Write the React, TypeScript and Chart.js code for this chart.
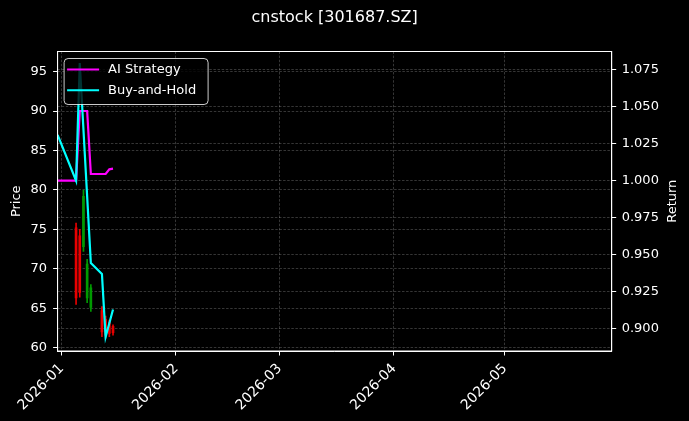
import { useEffect, useRef } from "react";
import { Chart, registerables } from "chart.js";
Chart.register(...registerables);

const chartTitle = "cnstock [301687.SZ]";

// daily candles (price axis)
const candleDates = ["2026-01-05", "2026-01-06", "2026-01-07", "2026-01-08", "2026-01-09", "2026-01-12", "2026-01-13", "2026-01-14", "2026-01-15"];
const opens = [75.2, 74.2, 72.8, 66.3, 65.1, 64.7, 63.6, 63.2, 62.7];
const highs = [75.8, 75.0, 80.0, 71.2, 68.0, 65.2, 64.0, 63.5, 62.9];
const lows = [65.5, 66.4, 72.2, 65.7, 64.6, 61.4, 61.2, 61.4, 61.6];
const closes = [66.3, 67.0, 79.2, 70.6, 67.6, 62.0, 61.6, 61.8, 61.9];

// return curves (right axis)
const strategyDates = ["2025-12-31", "2026-01-05", "2026-01-06", "2026-01-07", "2026-01-08", "2026-01-09", "2026-01-12", "2026-01-13", "2026-01-14", "2026-01-15"];
const strategyReturns = [1.0, 1.0, 1.0472, 1.0472, 1.0472, 1.0045, 1.0045, 1.0045, 1.0077, 1.0081];
const holdDates = ["2025-12-31", "2026-01-05", "2026-01-06", "2026-01-09", "2026-01-12", "2026-01-13", "2026-01-15"];
const holdReturns = [1.031, 1.0, 1.0797, 0.9442, 0.9368, 0.8941, 0.9127];

// axes
const monthTicks = ["2026-01", "2026-02", "2026-03", "2026-04", "2026-05"];
const priceTicks = [60, 65, 70, 75, 80, 85, 90, 95];
const returnTicks = [0.9, 0.925, 0.95, 0.975, 1.0, 1.025, 1.05, 1.075];
const xRange = ["2025-12-31", "2026-05-30"];
const priceRange = [59.58, 97.56];
const returnRange = [0.8846, 1.0875];

const FONT = "'DejaVu Sans', sans-serif";
const UP = "#009a00";
const DOWN = "#e80000";
const GRID = "rgba(255,255,255,0.3)";

const day = (s: string) => {
  const [y, m, d] = s.split("-").map(Number);
  return (Date.UTC(y, m - 1, d || 1) - Date.UTC(2026, 0, 1)) / 86400000;
};

const framePlugin = {
  id: "frame",
  afterDatasetsDraw(chart: any) {
    const { ctx, chartArea: a } = chart;
    // legend box, upper left inside the axes
    const lines = chart.data.datasets.filter((d: any) => d.type === "line");
    const x = a.left + 6.5, y = a.top + 7, w = 144, h = 46;
    ctx.save();
    ctx.setLineDash([]);
    ctx.fillStyle = "rgba(0,0,0,0.8)";
    ctx.strokeStyle = "rgba(255,255,255,0.8)";
    ctx.lineWidth = 1;
    ctx.beginPath();
    ctx.roundRect(x, y, w, h, 4);
    ctx.fill();
    ctx.stroke();
    ctx.font = `13px ${FONT}`;
    ctx.textBaseline = "middle";
    lines.forEach((ds: any, i: number) => {
      const ry = y + 11 + i * 20.7;
      ctx.strokeStyle = ds.borderColor;
      ctx.lineWidth = 2;
      ctx.beginPath();
      ctx.moveTo(x + 3, ry);
      ctx.lineTo(x + 35, ry);
      ctx.stroke();
      ctx.fillStyle = "#ffffff";
      ctx.fillText(ds.label, x + 44, ry);
    });
    ctx.restore();
  },
  afterDraw(chart: any) {
    const { ctx, chartArea: a } = chart;
    ctx.save();
    ctx.setLineDash([]);
    ctx.strokeStyle = "#ffffff";
    ctx.lineWidth = 1;
    ctx.strokeRect(a.left, a.top, a.right - a.left, a.bottom - a.top);
    ctx.fillStyle = "#ffffff";
    // month labels, rotated 45 degrees, ending under the tick
    ctx.font = `14px ${FONT}`;
    const xs = chart.scales.x;
    monthTicks.forEach((m) => {
      const px = xs.getPixelForValue(day(m));
      ctx.save();
      ctx.translate(px - 4.5, a.bottom + 10.5);
      ctx.rotate(-Math.PI / 4);
      ctx.textAlign = "right";
      ctx.textBaseline = "top";
      ctx.fillText(m, 0, 0);
      ctx.restore();
    });
    // right axis title, reading bottom to top
    ctx.font = `13px ${FONT}`;
    ctx.translate(672.5, (a.top + a.bottom) / 2);
    ctx.rotate(-Math.PI / 2);
    ctx.textAlign = "center";
    ctx.textBaseline = "middle";
    ctx.fillText("Return", 0, 0);
    ctx.restore();
  },
};

export default function App() {
  const canvasRef = useRef<HTMLCanvasElement>(null);
  const chartRef = useRef<Chart | null>(null);

  useEffect(() => {
    document.body.style.margin = "0";
    document.body.style.background = "#000";
    if (!canvasRef.current) return;
    chartRef.current?.destroy();

    const colors = candleDates.map((_, i) => (closes[i] >= opens[i] ? UP : DOWN));
    const axisCommon = {
      grid: { color: GRID, lineWidth: 0.7, tickColor: "#ffffff", tickLength: 4.5, tickWidth: 1 },
      border: { color: "#ffffff", width: 1, dash: [2.5, 1.6] },
    };

    chartRef.current = new Chart(canvasRef.current, {
      type: "bar",
      data: {
        datasets: [
          {
            type: "line",
            label: "AI Strategy",
            data: strategyDates.map((d, i) => ({ x: day(d), y: strategyReturns[i] })),
            borderColor: "#ff00ff",
            borderWidth: 2.2,
            pointRadius: 0,
            tension: 0,
            yAxisID: "y1",
            order: 1,
          },
          {
            type: "line",
            label: "Buy-and-Hold",
            data: holdDates.map((d, i) => ({ x: day(d), y: holdReturns[i] })),
            borderColor: "#00ffff",
            borderWidth: 2.2,
            pointRadius: 0,
            tension: 0,
            yAxisID: "y1",
            order: 0,
          },
          {
            type: "bar",
            label: "body",
            data: candleDates.map((d, i) => ({ x: day(d), y: [Math.min(opens[i], closes[i]), Math.max(opens[i], closes[i])] })),
            backgroundColor: colors,
            barThickness: 2,
            grouped: false,
            yAxisID: "y",
            order: 2,
          },
          {
            type: "bar",
            label: "wick",
            data: candleDates.map((d, i) => ({ x: day(d), y: [lows[i], highs[i]] })),
            backgroundColor: colors,
            barThickness: 1,
            grouped: false,
            yAxisID: "y",
            order: 3,
          },
        ] as any,
      },
      plugins: [framePlugin],
      options: {
        animation: false,
        responsive: true,
        maintainAspectRatio: false,
        layout: { padding: 0 },
        font: { family: FONT },
        plugins: {
          legend: { display: false },
          tooltip: { enabled: false },
          title: {
            display: true,
            text: chartTitle,
            color: "#ffffff",
            fullSize: false,
            font: { family: FONT, size: 16, weight: "normal" },
            padding: { top: 8.5, bottom: 23.8 },
          },
        },
        scales: {
          x: {
            type: "linear",
            offset: false,
            min: day(xRange[0]),
            max: day(xRange[1]),
            ...axisCommon,
            grid: { ...axisCommon.grid, offset: false },
            afterBuildTicks: (s: any) => { s.ticks = monthTicks.map((m) => ({ value: day(m) })); },
            afterFit: (s: any) => { s.height = 70; },
            ticks: { display: false },
          },
          y: {
            position: "left",
            min: priceRange[0],
            max: priceRange[1],
            ...axisCommon,
            afterBuildTicks: (s: any) => { s.ticks = priceTicks.map((v) => ({ value: v })); },
            afterFit: (s: any) => { s.width = 57.6; },
            ticks: { color: "#ffffff", font: { family: FONT, size: 13 }, padding: 6, callback: (v: any) => String(v) },
            title: { display: true, text: "Price", color: "#ffffff", font: { family: FONT, size: 13 }, padding: { top: 9, bottom: 0 } },
          },
          y1: {
            position: "right",
            min: returnRange[0],
            max: returnRange[1],
            ...axisCommon,
            afterBuildTicks: (s: any) => { s.ticks = returnTicks.map((v) => ({ value: v })); },
            afterFit: (s: any) => { s.width = 689 - 611.7; },
            ticks: { color: "#ffffff", font: { family: FONT, size: 13 }, padding: 5.5, callback: (v: any) => Number(v).toFixed(3) },
          },
        },
      } as any,
    });

    return () => { chartRef.current?.destroy(); chartRef.current = null; };
  }, []);

  return (
    <div style={{ width: 689, height: 421, background: "#000", position: "relative" }}>
      <canvas ref={canvasRef}></canvas>
    </div>
  );
}
